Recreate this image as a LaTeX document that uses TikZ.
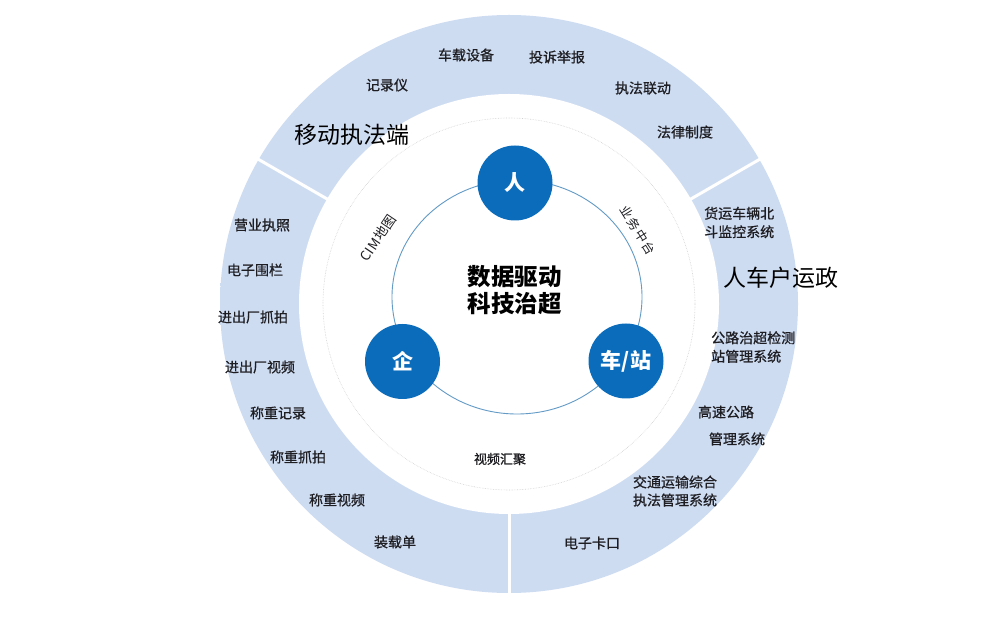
\documentclass[tikz,border=0pt]{standalone}
\usepackage{fontspec}
\setmainfont{Noto Sans CJK SC}
\newfontfamily\lblfont[FakeBold=0.8]{Noto Sans CJK SC}
\newfontfamily\cimfont[LetterSpace=4]{Noto Sans CJK SC}
\newfontfamily\ywfont[LetterSpace=14]{Noto Sans CJK SC}
\usetikzlibrary{calc}
\definecolor{ringlight}{RGB}{206,220,242}
\definecolor{ringdark}{RGB}{186,204,235}
\definecolor{corebl}{RGB}{11,108,188}
\definecolor{thinbl}{RGB}{100,155,198}
\definecolor{txt}{RGB}{30,30,34}
\pgfdeclareradialshading{ringshade}{\pgfpoint{0bp}{0bp}}{color(0bp)=(ringlight); color(36bp)=(ringlight); color(43bp)=(ringdark!55!ringlight); color(50bp)=(ringdark)}
\tikzset{
  lbl/.style={font=\lblfont\fontsize{14}{18}\selectfont, text=txt, inner sep=0pt, align=center},
  lblleft/.style={font=\lblfont\fontsize{14}{18.5}\selectfont, text=txt, inner sep=0pt, align=left, anchor=west},
  inlbl/.style={font=\lblfont\fontsize{13}{15}\selectfont, text=txt, inner sep=0pt},
  title/.style={font=\fontsize{23}{26}\selectfont, text=black, inner sep=0pt},
  core/.style={circle, fill=corebl, text=white, inner sep=0pt, minimum size=75pt, font=\bfseries\fontsize{21}{21}\selectfont},
  centre/.style={font=\bfseries\fontsize{23.5}{27}\selectfont, text=black, inner sep=0pt, align=center},
  divider/.style={white, line width=3pt},
  thinring/.style={thinbl, line width=0.9pt},
  faintring/.style={gray!35, line width=0.6pt, densely dotted}
}
\begin{document}
\begin{tikzpicture}[x=1pt,y=1pt]
\useasboundingbox (0,0) rectangle (991,619);
\fill[white] (0,0) rectangle (991,619);
\coordinate (c) at (509,315);
\coordinate (c2) at (517,322);
% outer ring
\shade[shading=ringshade] (c) circle[radius=289];
\fill[white] (c) circle[radius=210];
\foreach \a in {30,150,270}
  \draw[divider] ($(c)+(\a:205)$) -- ($(c)+(\a:294)$);
% faint ring and thin ring
\draw[faintring] (c) circle[radius=186];
\draw[thinring] (c2) ellipse[x radius=125, y radius=117];
% core nodes
\node[core] (ren) at (515,436) {人};
\node[core] (qi) at (402.5,257.5) {企};
\node[core] (che) at (626,258) {车/站};
\node[centre] (mid) at (514.5,329) {数据驱动\\科技治超};
% inner labels
\node[inlbl, font=\cimfont\fontsize{13.5}{15}\selectfont, rotate=56] (cim) at (378,381) {CIM地图};
\node[inlbl, font=\ywfont\fontsize{12.5}{15}\selectfont, rotate=-58] (ywzt) at (638,389) {业务中台};
\node[inlbl] (sphj) at (500,160) {视频汇聚};
% top segment
\node[title] (ydzf) at (352,484) {移动执法端};
\node[lbl] (czsb) at (466,564) {车载设备};
\node[lbl] (tsjb) at (557,562) {投诉举报};
\node[lbl] (jly) at (387,534) {记录仪};
\node[lbl] (zfld) at (643,531) {执法联动};
\node[lbl] (flzd) at (685,487) {法律制度};
% right segment
\node[title] (rchyz) at (781,341) {人车户运政};
\node[lblleft] (hycl) at (704,396.5) {货运车辆北\\斗监控系统};
\node[lblleft] (glzc) at (711,272) {公路治超检测\\站管理系统};
\node[lbl] (gsgl) at (726,207) {高速公路};
\node[lbl] (glxt) at (737,180) {管理系统};
\node[lbl, align=left] (jtys) at (675,128) {交通运输综合\\执法管理系统};
\node[lbl] (dzkk) at (592,76) {电子卡口};
% left segment
\node[lbl] (yyzz) at (262,394) {营业执照};
\node[lbl] (dzwl) at (255,349) {电子围栏};
\node[lbl] (jczp) at (253,302) {进出厂抓拍};
\node[lbl] (jcsp) at (260,252) {进出厂视频};
\node[lbl] (czjl) at (278,206) {称重记录};
\node[lbl] (czzp) at (298,162) {称重抓拍};
\node[lbl] (czsp) at (337,119) {称重视频};
\node[lbl] (zzd) at (395,77) {装载单};
\end{tikzpicture}
\end{document}
